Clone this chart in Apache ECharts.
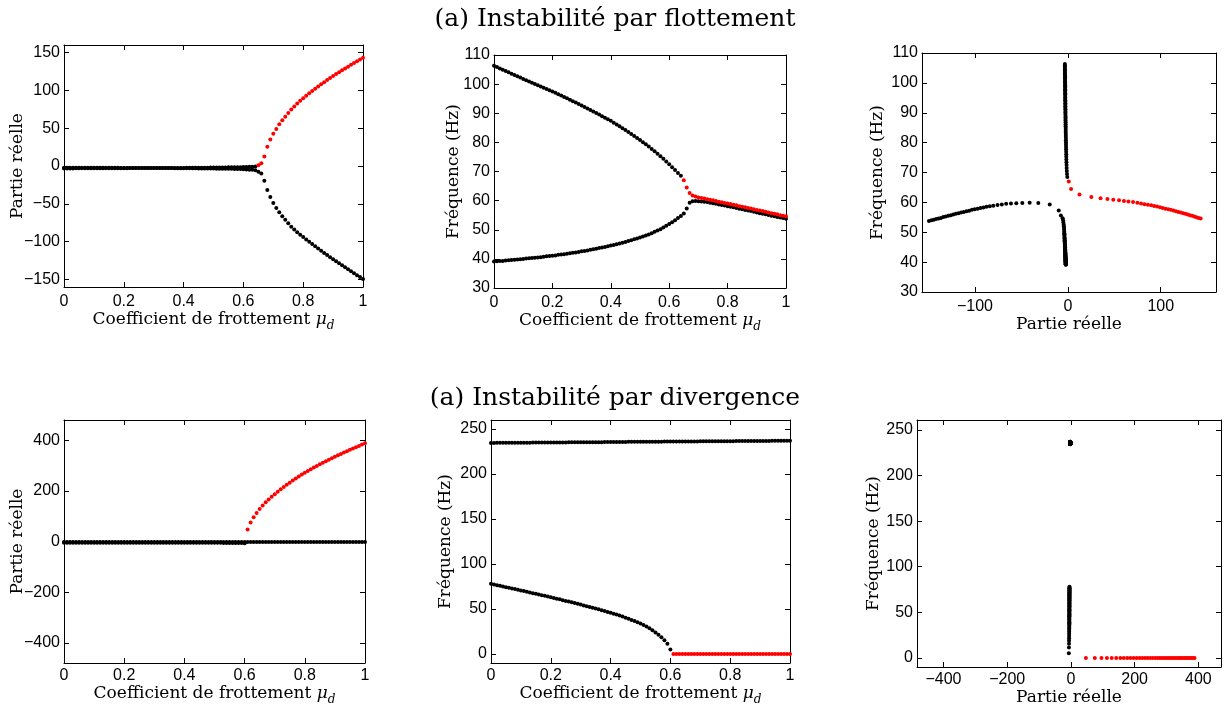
<!DOCTYPE html>
<html><head><meta charset="utf-8">
<script src="https://cdn.jsdelivr.net/npm/echarts@6/dist/echarts.min.js"></script>
<style>html,body{margin:0;padding:0;background:#fff}#c{width:1225px;height:706px}</style>
</head><body><div id="c"></div><script>
// Friction coefficient grid
const mu = [0,0.01,0.02,0.03,0.04,0.05,0.06,0.07,0.08,0.09,
0.1,0.11,0.12,0.13,0.14,0.15,0.16,0.17,0.18,0.19,
0.2,0.21,0.22,0.23,0.24,0.25,0.26,0.27,0.28,0.29,
0.3,0.31,0.32,0.33,0.34,0.35,0.36,0.37,0.38,0.39,
0.4,0.41,0.42,0.43,0.44,0.45,0.46,0.47,0.48,0.49,
0.5,0.51,0.52,0.53,0.54,0.55,0.56,0.57,0.58,0.59,
0.6,0.61,0.62,0.63,0.64,0.65,0.66,0.67,0.68,0.69,
0.7,0.71,0.72,0.73,0.74,0.75,0.76,0.77,0.78,0.79,
0.8,0.81,0.82,0.83,0.84,0.85,0.86,0.87,0.88,0.89,
0.9,0.91,0.92,0.93,0.94,0.95,0.96,0.97,0.98,0.99,1];

// (a) Flutter instability: real parts
const flutReA = [-3.2,-3.2,-3.2,-3.2,-3.1,-3.1,-3.1,-3.1,-3.1,-3.0,
-3.0,-3.0,-3.0,-3.0,-3.0,-2.9,-2.9,-2.9,-2.9,-2.9,
-2.9,-2.9,-2.8,-2.8,-2.8,-2.8,-2.8,-2.8,-2.7,-2.7,
-2.7,-2.7,-2.7,-2.6,-2.6,-2.6,-2.6,-2.5,-2.5,-2.5,
-2.5,-2.4,-2.4,-2.4,-2.3,-2.3,-2.3,-2.2,-2.2,-2.1,
-2.1,-2.0,-2.0,-1.9,-1.9,-1.8,-1.7,-1.7,-1.6,-1.5,
-1.4,-1.3,-1.1,-0.9,-0.6,1.0,3.5,12.5,25.3,35.2,
42.6,48.9,55.1,60.4,65.2,70.2,74.8,78.8,82.6,86.2,
89.7,92.9,96.1,99.2,102.2,105.1,108.0,110.8,113.6,116.3,
119.0,121.6,124.1,126.6,129.0,131.4,133.8,136.1,138.4,140.7,143.0];
const flutReB = [-2.2,-2.2,-2.2,-2.2,-2.2,-2.2,-2.3,-2.3,-2.3,-2.3,
-2.3,-2.3,-2.3,-2.4,-2.4,-2.4,-2.4,-2.4,-2.4,-2.5,
-2.5,-2.5,-2.5,-2.5,-2.5,-2.6,-2.6,-2.6,-2.6,-2.6,
-2.7,-2.7,-2.7,-2.7,-2.8,-2.8,-2.8,-2.9,-2.9,-2.9,
-3.0,-3.0,-3.0,-3.1,-3.1,-3.2,-3.2,-3.3,-3.3,-3.4,
-3.4,-3.5,-3.5,-3.6,-3.7,-3.7,-3.8,-3.9,-4.0,-4.1,
-4.3,-4.5,-4.8,-5.1,-5.6,-7.5,-9.8,-19.5,-31.8,-41.1,
-49.0,-55.5,-61.2,-66.4,-71.1,-75.7,-80.2,-84.0,-87.6,-90.9,
-94.0,-97.1,-100.2,-103.2,-106.2,-109.1,-112.0,-114.9,-117.7,-120.5,
-123.3,-126.0,-128.7,-131.4,-134.0,-136.6,-139.2,-141.8,-144.3,-146.8,-149.5];
// (a) Flutter instability: frequencies (Hz)
const flutFreqA = [106.3,105.85,105.4,104.95,104.5,104.05,103.6,103.15,102.7,102.25,
101.8,101.37,100.94,100.5,100.07,99.64,99.2,98.77,98.34,97.9,
97.5,97.03,96.56,96.08,95.6,95.12,94.64,94.16,93.68,93.2,
92.7,92.18,91.66,91.14,90.61,90.08,89.54,89.0,88.46,87.92,
87.4,86.78,86.15,85.52,84.88,84.23,83.57,82.9,82.22,81.52,
80.8,80.07,79.32,78.55,77.76,76.95,76.12,75.26,74.37,73.45,
72.5,71.5,70.5,69.5,68.5,67.0,64.5,62.6,61.8,61.4,
61.1,60.9,60.7,60.5,60.3,60.1,59.9,59.6,59.4,59.2,
59.0,58.8,58.6,58.4,58.1,57.9,57.7,57.5,57.3,57.0,
56.8,56.6,56.4,56.2,55.9,55.7,55.5,55.3,55.0,54.8,54.6];
const flutFreqB = [39.1,39.2,39.3,39.3,39.4,39.5,39.6,39.7,39.8,39.9,
40.0,40.1,40.2,40.3,40.4,40.5,40.6,40.7,40.9,41.0,
41.1,41.2,41.4,41.5,41.6,41.8,41.9,42.1,42.2,42.4,
42.6,42.7,42.9,43.1,43.3,43.5,43.7,43.9,44.1,44.3,
44.6,44.8,45.0,45.3,45.5,45.8,46.1,46.4,46.7,47.0,
47.3,47.7,48.0,48.4,48.8,49.3,49.7,50.2,50.8,51.4,
52.0,52.6,53.3,54.0,54.7,55.6,57.3,59.3,59.8,59.9,
59.8,59.7,59.6,59.5,59.3,59.1,58.9,58.7,58.5,58.3,
58.1,57.9,57.7,57.5,57.2,57.0,56.8,56.6,56.4,56.2,
55.9,55.7,55.5,55.3,55.1,54.8,54.6,54.4,54.2,54.0,53.8];

// (b) Divergence instability
const divFreqHigh = [234.5,234.5,234.6,234.6,234.6,234.6,234.7,234.7,234.7,234.7,
234.8,234.8,234.8,234.8,234.9,234.9,234.9,234.9,235.0,235.0,
235.0,235.0,235.1,235.1,235.1,235.1,235.2,235.2,235.2,235.2,
235.3,235.3,235.3,235.3,235.4,235.4,235.4,235.4,235.5,235.5,
235.5,235.5,235.6,235.6,235.6,235.6,235.7,235.7,235.7,235.7,
235.8,235.8,235.8,235.8,235.9,235.9,235.9,235.9,236.0,236.0,
236.0,236.0,236.1,236.1,236.1,236.1,236.2,236.2,236.2,236.2,
236.3,236.3,236.3,236.3,236.4,236.4,236.4,236.4,236.5,236.5,
236.5,236.5,236.6,236.6,236.6,236.6,236.7,236.7,236.7,236.7,
236.8,236.8,236.8,236.8,236.9,236.9,236.9,236.9,237.0,237.0,237.0];
const divReHigh = [-2,-2,-2,-2,-2,-2,-2,-2,-2,-2,
-2,-2,-2,-2,-2,-2,-2,-2,-2,-2,
-2,-2,-2,-2,-2,-2,-2,-2,-2,-2,
-2,-2,-2,-2,-2,-2,-2,-2,-2,-2,
-2,-2,-2,-2,-2,-2,-2,-2,-2,-2,
-2,-2,-2,-2,-2,-2,-2,-2,-2,-2,
-2,-2,-2,-2,-2,-2,-2,-2,-2,-2,
-2,-2,-2,-2,-2,-2,-2,-2,-2,-2,
-2,-2,-2,-2,-2,-2,-2,-2,-2,-2,
-2,-2,-2,-2,-2,-2,-2,-2,-2,-2,-2];
// low mode, mu = 0 .. 0.60
const divFreqLow = [78.0,77.3,76.5,75.8,75.0,74.3,73.6,72.8,72.1,71.3,
70.6,69.9,69.1,68.4,67.6,66.9,66.1,65.4,64.6,63.9,
63.1,62.3,61.5,60.7,59.8,59.0,58.2,57.4,56.6,55.7,
54.9,54.0,53.1,52.2,51.4,50.5,49.6,48.6,47.7,46.8,
45.8,44.8,43.8,42.7,41.6,40.4,39.2,37.9,36.6,35.2,
33.8,32.3,30.5,28.6,26.4,24.0,21.5,18.7,15.4,11.5,5.0];
const divReLow = [-4.5,-4.5,-4.5,-4.5,-4.5,-4.5,-4.5,-4.5,-4.5,-4.5,
-4.6,-4.6,-4.6,-4.6,-4.6,-4.6,-4.6,-4.6,-4.6,-4.6,
-4.7,-4.7,-4.7,-4.7,-4.7,-4.7,-4.7,-4.7,-4.7,-4.7,
-4.8,-4.8,-4.8,-4.8,-4.8,-4.8,-4.8,-4.8,-4.8,-4.8,
-5.0,-5.0,-5.0,-5.0,-5.0,-5.0,-5.0,-5.0,-5.0,-5.0,
-5.2,-5.3,-5.4,-5.5,-5.6,-5.7,-5.8,-5.9,-6.0,-6.2,-6.5];
// diverging mode, mu = 0.61 .. 1.00
const divReRed = [47,75,96,113,128,142,155,166,177,
187,197,206.5,215.5,224,232.5,240.5,248.5,256.5,264.5,272,
278.9,285.6,292.2,298.6,304.9,311.1,317.2,323.2,329.1,335,
340.6,346.1,351.5,356.9,362.2,367.4,372.6,377.7,382.8,388];
const divFreqRed = [0,0,0,0,0,0,0,0,0,
0,0,0,0,0,0,0,0,0,0,0,
0,0,0,0,0,0,0,0,0,0,
0,0,0,0,0,0,0,0,0,0];

// tick labels
const ticksMu = [0,0.2,0.4,0.6,0.8,1];
const ticksRe1 = [-150,-100,-50,0,50,100,150];
const ticksFreq1 = [30,40,50,60,70,80,90,100,110];
const ticksRe3 = [-100,0,100];
const ticksRe4 = [-400,-200,0,200,400];
const ticksFreq2 = [0,50,100,150,200,250];

const titleTop = '(a) Instabilité par flottement';
const titleBottom = '(a) Instabilité par divergence';
const nameMu = '{t|Coefficient de frottement }{m|μ}{d|d}';
const nameRe = 'Partie réelle';
const nameFreq = 'Fréquence (Hz)';

const muLow = mu.slice(0, divFreqLow.length);
const muRed = mu.slice(mu.length - divReRed.length);

const BLACK = '#000000', RED = '#ff0000';
const SERIF = 'DejaVu Serif';
function zip(xs, ys) { return xs.map((x, i) => [x, ys[i]]); }
function splitBySign(xs, ys, re) {
  const b = [], r = [];
  xs.forEach((x, i) => { (re[i] > 0 ? r : b).push([x, ys[i]]); });
  return { b, r };
}

const grids = [
  {left:64, top:45, width:299, height:242},
  {left:494, top:55, width:292, height:233},
  {left:922, top:53, width:294, height:239},
  {left:64, top:420, width:301, height:243},
  {left:491, top:420, width:299, height:243},
  {left:917, top:420, width:304, height:247}
];

const panels = [
  {x:[0,1], xt:ticksMu, xn:nameMu, xg:16, xm:7, y:[-160,160], yt:ticksRe1, yn:nameRe, yg:38},
  {x:[0,1], xt:ticksMu, xn:nameMu, xg:16, xm:7, y:[30,110], yt:ticksFreq1, yn:nameFreq, yg:32},
  {x:[-157,159.5], xt:ticksRe3, xn:nameRe, xg:19, xm:7, y:[30,110], yt:ticksFreq1, yn:nameFreq, yg:36},
  {x:[0,1], xt:ticksMu, xn:nameMu, xg:11, xm:5, y:[-480,480], yt:ticksRe4, yn:nameRe, yg:38},
  {x:[0,1], xt:ticksMu, xn:nameMu, xg:11, xm:5, y:[-10,260], yt:ticksFreq2, yn:nameFreq, yg:37},
  {x:[-483,471], xt:ticksRe4, xn:nameRe, xg:21, xm:5, y:[-10,261], yt:ticksFreq2, yn:nameFreq, yg:35}
];

const fmt = v => (v < 0 ? '\u2212' : '') + String(Math.abs(v));
const labelStyle = {color:'#000', fontFamily:'Liberation Sans', fontSize:16};
const nameStyle = {
  color:'#000', fontFamily:SERIF, fontSize:17,
  rich: {
    t:{color:'#000', fontFamily:SERIF, fontSize:17, lineHeight:24},
    m:{color:'#000', fontFamily:SERIF, fontSize:17, fontStyle:'italic', lineHeight:24},
    d:{color:'#000', fontFamily:SERIF, fontSize:12, fontStyle:'italic', lineHeight:12, verticalAlign:'bottom'}
  }
};

function axis(gi, range, ticks, pos, showLabel, name, gap, margin, isY) {
  const a = {
    type:'value', gridIndex:gi, position:pos, min:range[0], max:range[1],
    axisLine:{show:true, onZero:false, lineStyle:{color:'#000', width:1}},
    axisTick:{show:true, inside:true, length:5, customValues:ticks, lineStyle:{color:'#000', width:1}},
    axisLabel:Object.assign({show:showLabel, customValues:ticks, formatter:fmt, margin:margin}, labelStyle),
    splitLine:{show:false}
  };
  if (name) {
    a.name = name; a.nameLocation = 'middle'; a.nameGap = gap; a.nameTextStyle = nameStyle;
    if (isY) { a.nameRotate = 90; a.nameMoveOverlap = false; }
  }
  return a;
}

const xAxis = [], yAxis = [];
panels.forEach((p, i) => {
  xAxis.push(axis(i, p.x, p.xt, 'bottom', true, p.xn, p.xg, p.xm, false));
  xAxis.push(axis(i, p.x, p.xt, 'top', false, null));
  yAxis.push(axis(i, p.y, p.yt, 'left', true, p.yn, p.yg, 4, true));
  yAxis.push(axis(i, p.y, p.yt, 'right', false, null));
});

const series = [];
function sc(i, data, color, z) {
  series.push({type:'scatter', xAxisIndex:2*i, yAxisIndex:2*i, data:data, symbol:'circle',
    symbolSize:4, itemStyle:{color:color, opacity:1}, z:z, silent:true, animation:false});
}
// panel 1: real part vs mu
let A = splitBySign(mu, flutReA, flutReA), B = splitBySign(mu, flutReB, flutReB);
sc(0, A.b.concat(B.b), BLACK, 2); sc(0, A.r.concat(B.r), RED, 3);
// panel 2: frequency vs mu
A = splitBySign(mu, flutFreqA, flutReA); B = splitBySign(mu, flutFreqB, flutReB);
sc(1, A.b.concat(B.b), BLACK, 2); sc(1, A.r.concat(B.r), RED, 3);
// panel 3: frequency vs real part
A = splitBySign(flutReA, flutFreqA, flutReA); B = splitBySign(flutReB, flutFreqB, flutReB);
sc(2, A.b.concat(B.b), BLACK, 2); sc(2, A.r.concat(B.r), RED, 3);
// panel 4
sc(3, zip(mu, divReHigh).concat(zip(muLow, divReLow)), BLACK, 2);
sc(3, zip(muRed, divReRed), RED, 3);
// panel 5
sc(4, zip(mu, divFreqHigh).concat(zip(muLow, divFreqLow)), BLACK, 2);
sc(4, zip(muRed, divFreqRed), RED, 3);
// panel 6
sc(5, zip(divReHigh, divFreqHigh).concat(zip(divReLow, divFreqLow)), BLACK, 2);
sc(5, zip(divReRed, divFreqRed), RED, 3);

const chart = echarts.init(document.getElementById('c'), null, {renderer:'canvas'});
chart.setOption({
  backgroundColor:'#ffffff',
  animation:false,
  grid: grids.map(g => Object.assign({containLabel:false, outerBoundsMode:'none'}, g)),
  xAxis, yAxis, series,
  graphic: [
    {type:'text', x:615, y:19, silent:true, style:{text:titleTop, font:'25px "DejaVu Serif"', fill:'#000', align:'center', verticalAlign:'middle', textAlign:'center', textVerticalAlign:'middle'}},
    {type:'text', x:615, y:398, silent:true, style:{text:titleBottom, font:'25px "DejaVu Serif"', fill:'#000', align:'center', verticalAlign:'middle', textAlign:'center', textVerticalAlign:'middle'}}
  ]
});
</script></body></html>
